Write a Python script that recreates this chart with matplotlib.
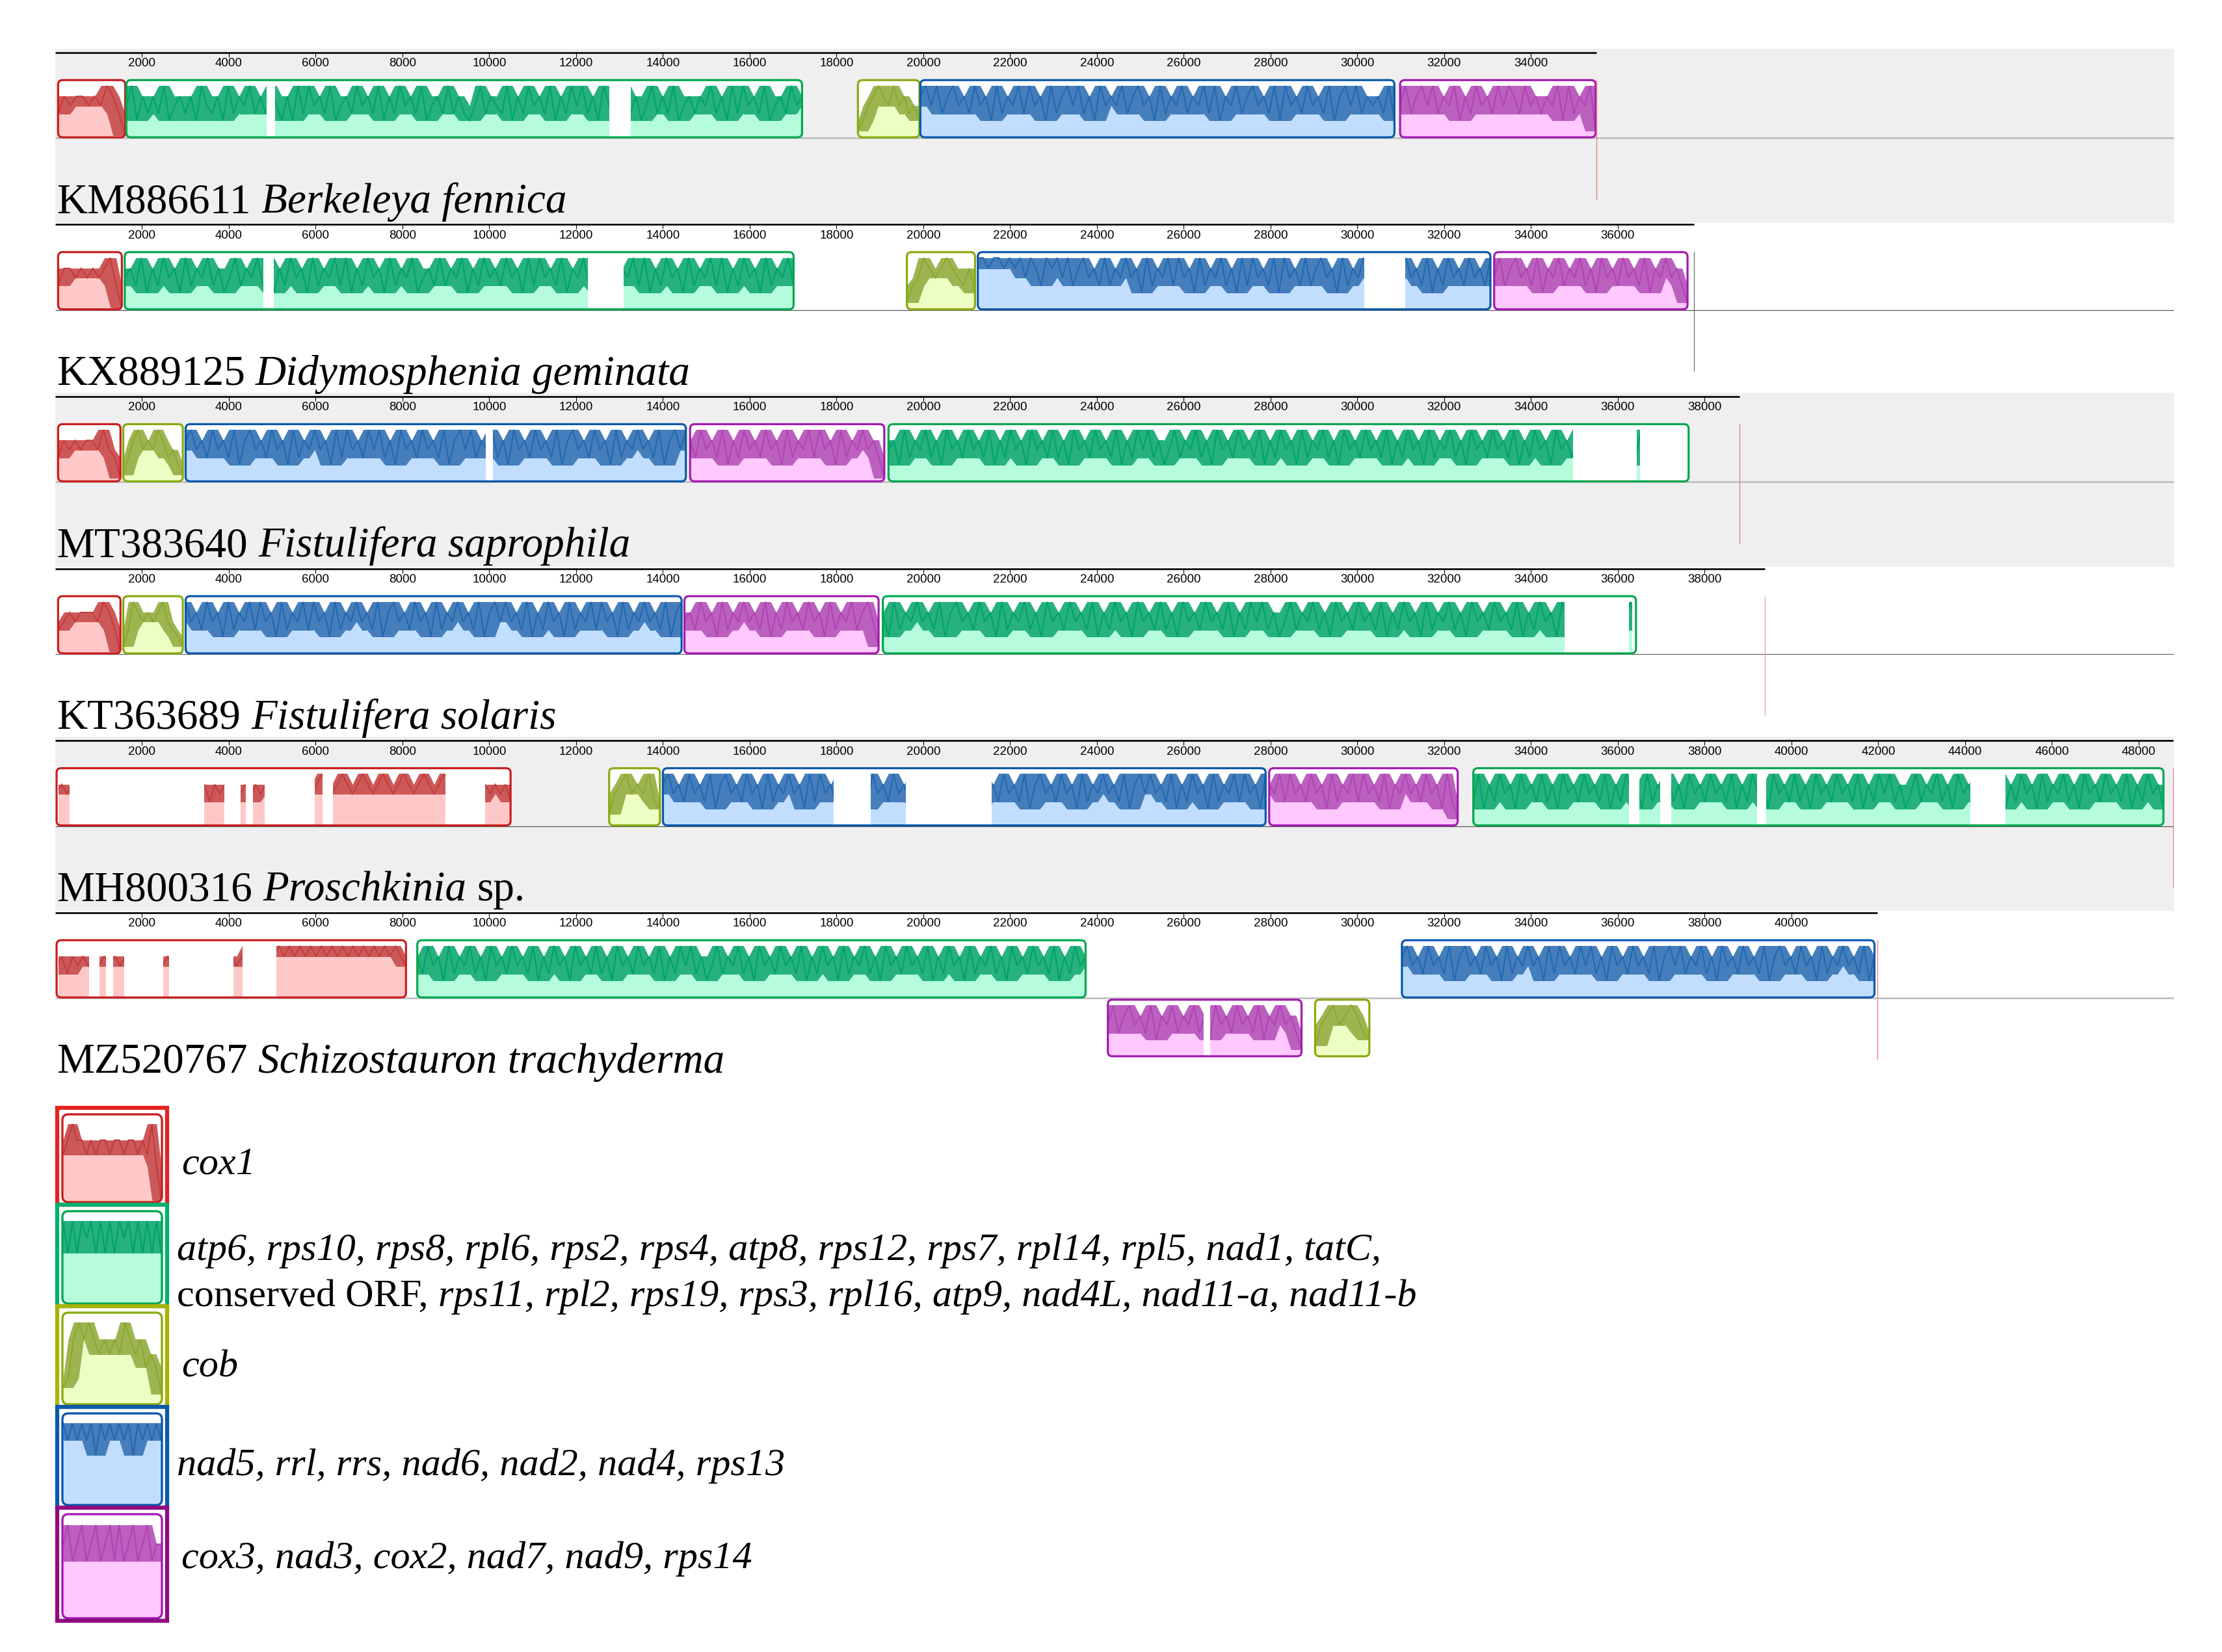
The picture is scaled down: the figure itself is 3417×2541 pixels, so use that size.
import numpy as np
import matplotlib
matplotlib.use("Agg")
import matplotlib.pyplot as plt
from matplotlib.patches import FancyBboxPatch, Rectangle

# ---------------- data ----------------
ACCESSIONS = ["KM886611", "KX889125", "MT383640", "KT363689", "MH800316", "MZ520767"]
SPECIES = ["Berkeleya fennica", "Didymosphenia geminata", "Fistulifera saprophila",
           "Fistulifera solaris", "Proschkinia", "Schizostauron trachyderma"]
SPECIES_SUFFIX = ["", "", "", "", " sp.", ""]
LENGTHS = [35509, 37750, 38800, 39380, 48800, 41975]

# LCB keys: cox1 (red), atp6.. (green), cob (yellow), nad5.. (blue), cox3.. (purple)
T1_GENES = ["cox1", "atp6", "cob", "nad5", "cox3"]
T1_START = [65, 1638, 18492, 19930, 30983]
T1_END = [1610, 17205, 19910, 30852, 35488]
T1_STRAND = [1, 1, 1, 1, 1]
T1_GAPS = [(4870, 5060), (12760, 13260)]
T1_PROFILE = [
    "687887879861",
    "79586869578685976859687968697585969786957869786958"
    "69786957869686579687695869786958697968597869685796"
    "869578687968596978695786978",
    "3578987978675",
    "8979689786978596879697859689796859787968978596879687969587968978695978697869589796878695",
    "7968979687958697869798697868795968793",
]

T2_GENES = ["cox1", "atp6", "cob", "nad5", "cox3"]
T2_START = [65, 1600, 19620, 21254, 33150]
T2_END = [1534, 17010, 21190, 33064, 37605]
T2_STRAND = [1, 1, 1, 1, 1]
T2_GAPS = [(4800, 5030), (12275, 13090), (30163, 31107)]
T2_PROFILE = [
    "688787878961",
    "78695869785968796857968796958697859687969586978596"
    "87957869687958697869785969786958796857968796958697"
    "8596879695869785968796",
    "3679878987685",
    "99899898979869897968978696879785968796978596879685969786959786968978596879785968797869586978697869",
    "7968978695879687968597869786958797863",
]

T3_GENES = ["cox1", "cob", "nad5", "cox3", "atp6"]
T3_START = [65, 1567, 3004, 14626, 19197]
T3_END = [1502, 2938, 14528, 19099, 37630]
T3_STRAND = [1, 1, 1, 1, 1]
T3_GAPS = [(9925, 10088), (34960, 36440), (36510, 37630)]
T3_PROFILE = [
    "687878879762",
    "3689787986753",
    "8978697869589786978596879785969786979685978697869589796879685978697869589786978596879786958979",
    "8697869586978697859687969785968797862",
    "78596879685978697869586978597869685978697869586979"
    "68579687968597869786958697859687968597869786958697"
    "8596879685978697869586978597869685978697869586978596",
]

T4_GENES = ["cox1", "cob", "nad5", "cox3", "atp6"]
T4_START = [65, 1567, 3004, 14495, 19066]
T4_END = [1502, 2938, 14430, 18968, 36417]
T4_STRAND = [1, 1, 1, 1, 1]
T4_GAPS = [(34770, 36260), (36330, 36417)]
T4_PROFILE = [
    "678788879861",
    "3698787897653",
    "9786978596879697859687969785968797869589786978596879786958979786958697859687969785968797869589",
    "7869785968797869586978697859687968973",
    "85968797869589786978596879685978697869586978597869"
    "68597869786958697968579687968597869786958697859687"
    "9685978697869586978597869685978697",
]

T5_GENES = ["cox1", "cob", "nad5", "cox3", "atp6"]
T5_START = [30, 12760, 14000, 27967, 32670]
T5_END = [10490, 13930, 27885, 32310, 48570]
T5_STRAND = [1, 1, 1, 1, 1]
T5_GAPS = [(30, 80), (325, 3430), (3900, 4270), (4390, 4550), (4830, 5980), (6150, 6390),
           (8990, 9900), (17930, 18780), (19590, 21580), (36250, 36490), (36980, 37230),
           (39200, 39410), (44115, 44930)]
T5_PROFILE = [
    "787878787878786878787868686878687868786878786878987898789878987898789878987898789896878786",
    "4789787965",
    "89786978695897869785968797859697869796859786978695897968796859786978695897869785968797869589797869586978596879697859",
    "8796978697859687969786958797869785963",
    "69586978597869685978697869586978596879685978697869"
    "58697859786968597869786958697968579687968597869786"
    "95869785968796859786978695869785",
]

T6_GENES = ["cox1", "atp6", "cox3", "cob", "nad5"]
T6_START = [30, 8340, 24250, 29025, 31025]
T6_END = [8080, 23737, 28712, 30275, 41912]
T6_STRAND = [1, 1, -1, -1, 1]
T6_GAPS = [(30, 80), (780, 1020), (1170, 1330), (1590, 2490), (2620, 4100), (4310, 5090),
           (26460, 26600)]
T6_PROFILE = [
    "7868787878787878787878787878787878789898989898989898989898989898987",
    "86978596879685978697869586978597869685978697869586"
    "97968579687968597869786958697859687968597869786958"
    "6978596879685978697869586978",
    "7968978695879687968597869786958797863",
    "4789789865",
    "8978697869589786978596879785969786979685978697869589796879685978697869589786978596879786958",
]

TRACK_GENES = [T1_GENES, T2_GENES, T3_GENES, T4_GENES, T5_GENES, T6_GENES]
TRACK_START = [T1_START, T2_START, T3_START, T4_START, T5_START, T6_START]
TRACK_END = [T1_END, T2_END, T3_END, T4_END, T5_END, T6_END]
TRACK_STRAND = [T1_STRAND, T2_STRAND, T3_STRAND, T4_STRAND, T5_STRAND, T6_STRAND]
TRACK_GAPS = [T1_GAPS, T2_GAPS, T3_GAPS, T4_GAPS, T5_GAPS, T6_GAPS]
TRACK_PROFILE = [T1_PROFILE, T2_PROFILE, T3_PROFILE, T4_PROFILE, T5_PROFILE, T6_PROFILE]

LEG_GENES = ["cox1", "atp6", "cob", "nad5", "cox3"]
LEG_PROFILE = ["7898878788788788787961",
               "9797989797979897979797",
               "45898987878798786763",
               "9898989798989897989898",
               "8978978978979789789788"]
LEG_LINES = [
    [[("cox1", "italic")]],
    [[("atp6, rps10, rps8, rpl6, rps2, rps4, atp8, rps12, rps7, rpl14, rpl5, nad1, tatC,", "italic")],
     [("conserved ORF,", "normal"),
      (" rps11, rpl2, rps19, rps3, rpl16, atp9, nad4L, nad11-a, nad11-b", "italic")]],
    [[("cob", "italic")]],
    [[("nad5, rrl, rrs, nad6, nad2, nad4, rps13", "italic")]],
    [[("cox3, nad3, cox2, nad7, nad9, rps14", "italic")]],
]

# ---------------- style ----------------
COL = {
    "cox1": dict(edge="#C81E1E", line="#C43C3C", fill="#FFC8C8", leg="#E42222"),
    "atp6": dict(edge="#00A651", line="#00A466", fill="#B4FCDC", leg="#00B070"),
    "cob":  dict(edge="#88AA10", line="#8CA832", fill="#EEFFC4", leg="#A8B400"),
    "nad5": dict(edge="#0A58A8", line="#2468B0", fill="#C2DEFF", leg="#0A5AA8"),
    "cox3": dict(edge="#A21CAF", line="#B044B4", fill="#FFC8FF", leg="#900A80"),
}
CENTER_COL = ["#BBBBBB", "#555555", "#BBBBBB", "#666666", "#555555", "#BBBBBB"]
CENTER_LW = [1.8, 0.9, 1.8, 0.9, 0.9, 1.8]
END_COL = ["#F08080", "#777777", "#F08080", "#F4A0A0", "#F08080", "#F08080"]
PROFILE_GAMMA = 2.0   # display scale of the similarity profile
PROFILE_CEIL = 0.93

W, H = 3417, 2541
X0_PX, X1_PX = 85, 3343
BP_MAX = 48810
BPPX = BP_MAX / (X1_PX - X0_PX)
TRACK_DY = 264.6
SERIF = "Liberation Serif"

fig = plt.figure(figsize=(W / 100, H / 100), dpi=100)
axp = fig.add_axes([0, 0, 1, 1])
axp.set_xlim(0, W); axp.set_ylim(H, 0); axp.axis("off"); axp.patch.set_visible(False)
ax = fig.add_axes([X0_PX / W, 0, (X1_PX - X0_PX) / W, 1])
ax.set_xlim(0, BP_MAX); ax.set_ylim(H, 0); ax.axis("off"); ax.patch.set_visible(False)
axt = fig.add_axes([0, 0, 1, 1])
axt.set_xlim(0, W); axt.set_ylim(H, 0); axt.axis("off"); axt.patch.set_visible(False)

renderer = fig.canvas.get_renderer()


def rich(x, y, pieces, size):
    sp = 0.25 * size * 100 / 72
    for s, st in pieces:
        x += (len(s) - len(s.lstrip(" "))) * sp
        core = s.strip(" ")
        t = axt.text(x, y, core, fontsize=size, style=st, family=SERIF,
                     va="baseline", ha="left", color="black", zorder=10)
        bb = t.get_window_extent(renderer)
        x = bb.x1 + (len(s) - len(s.rstrip(" "))) * sp


def envelope(vals, half, fn):
    padded = np.concatenate([np.repeat(vals[:1], half), vals, np.repeat(vals[-1:], half)])
    win = np.vstack([padded[i:i + len(vals)] for i in range(2 * half + 1)])
    return fn(win, axis=0)


def draw_profile(axis, x0, x1, top, bot, prof, c, clip, npx_inset=3, lw=1.5):
    vals = PROFILE_CEIL * (np.array([int(ch) for ch in prof], dtype=float) / 9.0) ** PROFILE_GAMMA
    xs = np.linspace(x0, x1, len(vals))
    lo = envelope(vals, 2, np.min)
    hi = envelope(vals, 1, np.max)
    it, ib = top + npx_inset, bot - 2
    span = ib - it
    f = axis.fill_between(xs, ib, ib - lo * span, color=c["fill"], lw=0, zorder=3)
    f.set_clip_path(clip)
    b = axis.fill_between(xs, ib - lo * span, ib - hi * span, color=c["line"], alpha=0.85,
                          lw=0, zorder=3.5)
    b.set_clip_path(clip)
    ln, = axis.plot(xs, ib - vals * span, color=c["line"], lw=lw, zorder=4,
                    solid_joinstyle="miter")
    ln.set_clip_path(clip)


R_PX = 7
for k in range(6):
    ry = 80.7 + TRACK_DY * k
    L = LENGTHS[k]
    if k % 2 == 0:
        ax.add_patch(Rectangle((0, ry - 5.7), BP_MAX, 268, fc="#EFEFEF", ec="none", zorder=0))
    ax.hlines(ry + 131.5, 0, BP_MAX, color=CENTER_COL[k], lw=CENTER_LW[k], zorder=1)
    # ruler
    ax.hlines(ry, 0, L, color="black", lw=1.9, zorder=7)
    ticks = np.arange(2000, L, 2000)
    ax.vlines(ticks, ry, ry + 7, color="black", lw=0.8, zorder=7)
    for t in ticks:
        ax.text(t, ry + 8.5, str(t), ha="center", va="top", fontsize=13.5,
                family="Liberation Sans", color="black", zorder=7)
    # blocks
    for g, s, e, strand, prof in zip(TRACK_GENES[k], TRACK_START[k], TRACK_END[k],
                                     TRACK_STRAND[k], TRACK_PROFILE[k]):
        c = COL[g]
        if strand > 0:
            top, bot = ry + 42.5, ry + 130.5
        else:
            top, bot = ry + 134, ry + 221
        box = FancyBboxPatch((s, top), e - s, bot - top,
                             boxstyle=f"round,pad=0,rounding_size={R_PX * BPPX}",
                             mutation_aspect=1 / BPPX, fc="white", ec="none", zorder=2)
        ax.add_patch(box)
        draw_profile(ax, s, e, top, bot, prof, c, box)
        for g0, g1 in TRACK_GAPS[k]:
            a, b = max(g0, s), min(g1, e)
            if b > a:
                r = Rectangle((a, top), b - a, bot - top, fc="white", ec="none", zorder=5)
                ax.add_patch(r)
                r.set_clip_path(box)
        ax.add_patch(FancyBboxPatch((s, top), e - s, bot - top,
                                    boxstyle=f"round,pad=0,rounding_size={R_PX * BPPX}",
                                    mutation_aspect=1 / BPPX, fc="none", ec=c["edge"],
                                    lw=2.3, zorder=6))
    ax.vlines(L, ry + 42, ry + 226, color=END_COL[k], lw=1.0, zorder=8)
    # label
    pieces = [(ACCESSIONS[k] + " ", "normal"), (SPECIES[k], "italic")]
    if SPECIES_SUFFIX[k]:
        pieces.append((SPECIES_SUFFIX[k], "normal"))
    rich(87, ry + 246.3, pieces, 47)

# ---------------- legend ----------------
LEG_EDGES = [1704, 1853, 2009, 2164, 2319, 2493]
LEG_TEXT_X = [279, 272, 279, 272, 279]
LEG_BASE = [[1806], [1938, 2009], [2117], [2269], [2412]]
for i, g in enumerate(LEG_GENES):
    c = COL[g]
    y0, y1 = LEG_EDGES[i], LEG_EDGES[i + 1]
    axp.add_patch(Rectangle((88, y0), 169, y1 - y0, fc="white", ec="none", zorder=2))
    inner = FancyBboxPatch((96, y0 + 10), 153, y1 - y0 - 14,
                           boxstyle="round,pad=0,rounding_size=9", fc="white", ec="none", zorder=2)
    axp.add_patch(inner)
    draw_profile(axp, 97, 248, y0 + 14, y1 - 4, LEG_PROFILE[i], c, inner, npx_inset=2, lw=1.6)
    axp.add_patch(FancyBboxPatch((96, y0 + 10), 153, y1 - y0 - 14,
                                 boxstyle="round,pad=0,rounding_size=9", fc="none",
                                 ec=c["edge"], lw=2.4, zorder=6))
    axp.add_patch(Rectangle((88, y0), 169, y1 - y0, fc="none", ec=c["leg"], lw=4.5, zorder=7))
    for line, yb in zip(LEG_LINES[i], LEG_BASE[i]):
        rich(LEG_TEXT_X[i], yb, line, 43.4)

fig.savefig("out.png", dpi=100)
